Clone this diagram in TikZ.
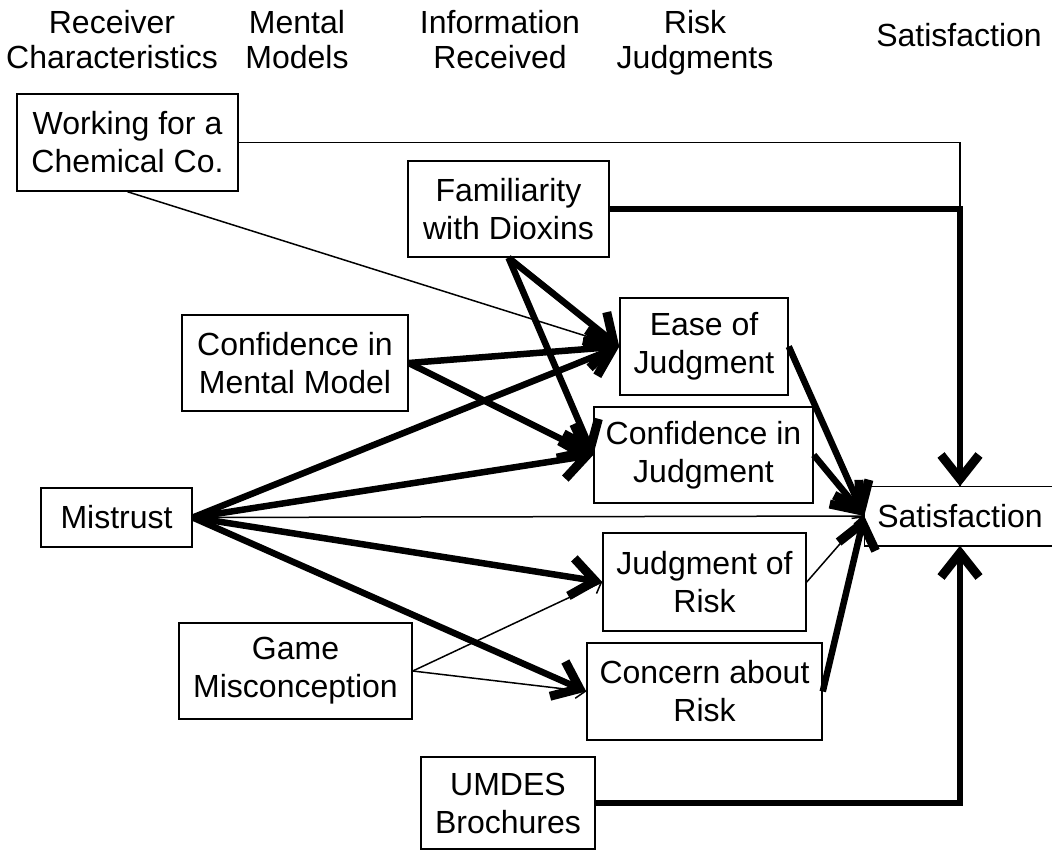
\documentclass[tikz,border=0pt]{standalone}
\usepackage{fontspec}
\setmainfont{Liberation Sans}
\usetikzlibrary{arrows.meta}
\begin{document}
\begin{tikzpicture}[x=1pt,y=-1pt,
  box/.style={draw, line width=1.5pt, fill=white, align=center, inner sep=0pt,
    font=\fontsize{32}{38}\selectfont},
  head/.style={align=center, inner sep=0pt, font=\fontsize{32}{35}\selectfont},
  weak/.style={line width=1.5pt, -{Straight Barb[length=9pt,width=16pt]}},
  strong/.style={line width=6.5pt, -{Straight Barb[length=24pt,width=38pt,line width=9pt]}},
  plain/.style={line width=1.5pt},
]
\useasboundingbox (0,0) rectangle (1052,852);

% column headings
\node[head, anchor=north] (h1) at (112,8.5) {Receiver\strut\\Characteristics\strut};
\node[head, anchor=north] (h2) at (297,8.5) {Mental\strut\\Models\strut};
\node[head, anchor=north] (h3) at (500,8.5) {Information\strut\\Received\strut};
\node[head, anchor=north] (h4) at (695,8.5) {Risk\strut\\Judgments\strut};
\node[head, anchor=base] (h5) at (959,46) {Satisfaction};

% variables
\node[box, minimum width=221pt, minimum height=97pt] (work) at (127.5,142.5) {Working for a\\Chemical Co.};
\node[box, minimum width=201pt, minimum height=96pt] (fam) at (508.5,209) {Familiarity\\with Dioxins};
\node[box, minimum width=226pt, minimum height=96pt] (cmm) at (295,363) {Confidence in\\Mental Model};
\node[box, minimum width=151pt, minimum height=59pt] (mis) at (116.5,517.5) {Mistrust};
\node[box, minimum width=233pt, minimum height=96pt] (game) at (295.5,671) {Game\\Misconception};
\node[box, minimum width=168pt, minimum height=97pt] (ease) at (704,346.5) {Ease of\\Judgment};
\node[box, minimum width=219pt, minimum height=96pt] (confj) at (703.5,455) {Confidence in\\Judgment};
\node[box, minimum width=203pt, minimum height=98pt] (jor) at (704.5,582) {Judgment of\\Risk};
\node[box, minimum width=235pt, minimum height=97pt] (conc) at (704.5,691.5) {Concern about\\Risk};
\node[box, minimum width=174pt, minimum height=92pt] (umdes) at (508,803) {UMDES\\Brochures};
\node[box, draw=none, fill=none, minimum width=190pt, minimum height=58pt] (sat) at (960,516) {Satisfaction};
\draw[plain] (sat.north east) -- (sat.north west) -- (sat.south west) -- (sat.south east);

% paths into the outcome
\draw[plain] (work.east) -| (sat.north);
\draw[strong] (fam.east) -| (sat.north);
\draw[strong] (umdes.east) -| (sat.south);
\draw[weak] (mis.east) -- (sat.west);
\draw[strong] (ease.east) -- (sat.west);
\draw[strong] (confj.east) -- (sat.west);
\draw[weak] (jor.east) -- (sat.west);
\draw[strong] (conc.east) -- (sat.west);

% paths into the judgments
\draw[weak] (work.south) -- (ease.west);
\draw[strong] (fam.south) -- (ease.west);
\draw[strong] (fam.south) -- (confj.west);
\draw[strong] (cmm.east) -- (ease.west);
\draw[strong] (cmm.east) -- (confj.west);
\draw[strong] (mis.east) -- (ease.west);
\draw[strong] (mis.east) -- (confj.west);
\draw[strong] (mis.east) -- (jor.west);
\draw[strong] (mis.east) -- (conc.west);
\draw[weak] (game.east) -- (jor.west);
\draw[weak] (game.east) -- (conc.west);
\end{tikzpicture}
\end{document}
